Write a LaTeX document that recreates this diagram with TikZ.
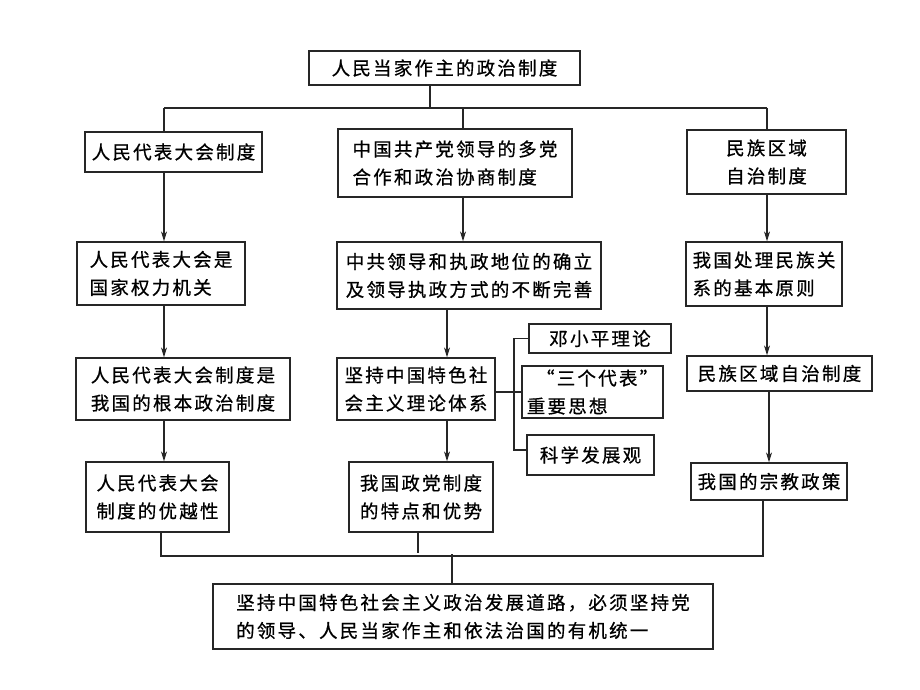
\documentclass[tikz,border=0pt]{standalone}
\usepackage{fontspec}
\newfontfamily\cjk[LetterSpace=12,FakeBold=0.7]{Noto Sans CJK SC}
\usetikzlibrary{arrows.meta}
\begin{document}
\begin{tikzpicture}[x=1pt,y=-1pt,
  box/.style={draw=black!85, line width=1.3pt, inner sep=0pt, align=left,
    font=\cjk\fontsize{18.5}{28}\selectfont},
  ln/.style={draw=black!85, line width=1.1pt},
  arr/.style={ln, -{Stealth[length=10pt,width=6pt]}}]
\useasboundingbox (0,0) rectangle (920,690);

% boxes
\node[box, minimum width=271pt, minimum height=34pt] (top) at (444.5,68) {人民当家作主的政治制度};
\node[box, minimum width=177pt, minimum height=40pt] (L1a) at (173.5,152) {人民代表大会制度};
\node[box, minimum width=234pt, minimum height=68pt] (L1b) at (455,163) {中国共产党领导的多党\\合作和政治协商制度};
\node[box, minimum width=159pt, minimum height=64pt, align=center] (L1c) at (766.5,162) {民族区域\\自治制度};
\node[box, minimum width=168pt, minimum height=63pt] (L2a) at (161,273.5) {人民代表大会是\\国家权力机关};
\node[box, minimum width=264pt, minimum height=67pt] (L2b) at (469,275.5) {中共领导和执政地位的确立\\及领导执政方式的不断完善};
\node[box, minimum width=156pt, minimum height=64pt] (L2c) at (764,274) {我国处理民族关\\系的基本原则};
\node[box, minimum width=214pt, minimum height=62pt] (L3a) at (183,389) {人民代表大会制度是\\我国的根本政治制度};
\node[box, minimum width=158pt, minimum height=62pt] (L3b) at (416,389) {坚持中国特色社\\会主义理论体系};
\node[box, minimum width=185pt, minimum height=35pt] (L3c) at (779.5,373.5) {民族区域自治制度};
\node[box, minimum width=143pt, minimum height=70pt] (L4a) at (157.5,497) {人民代表大会\\制度的优越性};
\node[box, minimum width=144pt, minimum height=70pt] (L4b) at (421,497) {我国政党制度\\的特点和优势};
\node[box, minimum width=156pt, minimum height=37pt] (L4c) at (769,481.5) {我国的宗教政策};
\node[box, minimum width=142pt, minimum height=29pt] (S1) at (600,338.5) {邓小平理论};
\node[box, minimum width=141pt, minimum height=52pt] (S2) at (592.5,392) {\hspace*{0.5em}“三个代表”\\重要思想};
\node[box, minimum width=127pt, minimum height=40pt] (S3) at (590.5,455) {科学发展观};
\node[box, minimum width=500pt, minimum height=65pt] (B) at (463,616.5) {坚持中国特色社会主义政治发展道路，必须坚持党\\的领导、人民当家作主和依法治国的有机统一};

% helper coordinates
\coordinate (t0) at (430,0);
\coordinate (h) at (0,108);
\coordinate (cA) at (164,0);
\coordinate (cB1) at (463,0);
\coordinate (cB2) at (447,0);
\coordinate (cC) at (767,0);
\coordinate (cC2) at (769,0);
\coordinate (brk) at (514,0);
\coordinate (b3) at (514,450);
\coordinate (hb) at (0,556);
\coordinate (bl) at (161,0);
\coordinate (brr) at (763,0);
\coordinate (st) at (418,553);
\coordinate (bc) at (452,554);

% top distribution
\draw[ln] (top.south -| t0) -- (t0 |- h);
\draw[ln] (cA |- h) -- (cC |- h);
\draw[ln] (cA |- h) -- (L1a.north -| cA);
\draw[ln] (cB1 |- h) -- (L1b.north -| cB1);
\draw[ln] (cC |- h) -- (L1c.north -| cC);

% arrows
\draw[arr] (L1a.south -| cA) -- (L2a.north -| cA);
\draw[arr] (L2a.south -| cA) -- (L3a.north -| cA);
\draw[arr] (L3a.south -| cA) -- (L4a.north -| cA);
\draw[arr] (L1b.south -| cB1) -- (L2b.north -| cB1);
\draw[arr] (L2b.south -| cB2) -- (L3b.north -| cB2);
\draw[arr] (L3b.south -| cB2) -- (L4b.north -| cB2);
\draw[arr] (L1c.south -| cC) -- (L2c.north -| cC);
\draw[arr] (L2c.south -| cC) -- (L3c.north -| cC);
\draw[arr] (L3c.south -| cC2) -- (L4c.north -| cC2);

% bracket
\draw[ln] (S2.west -| L3b.east) -- (S2.west);
\draw[ln] (S1.west) -- (brk |- S1.west) -- (b3) -- (b3 -| S3.west);

% bottom gathering
\draw[ln] (L4a.south -| bl) -- (bl |- hb) -- (brr |- hb) -- (L4c.south -| brr);
\draw[ln] (L4b.south -| st) -- (st);
\draw[ln] (bc) -- (B.north -| bc);
\end{tikzpicture}
\end{document}
